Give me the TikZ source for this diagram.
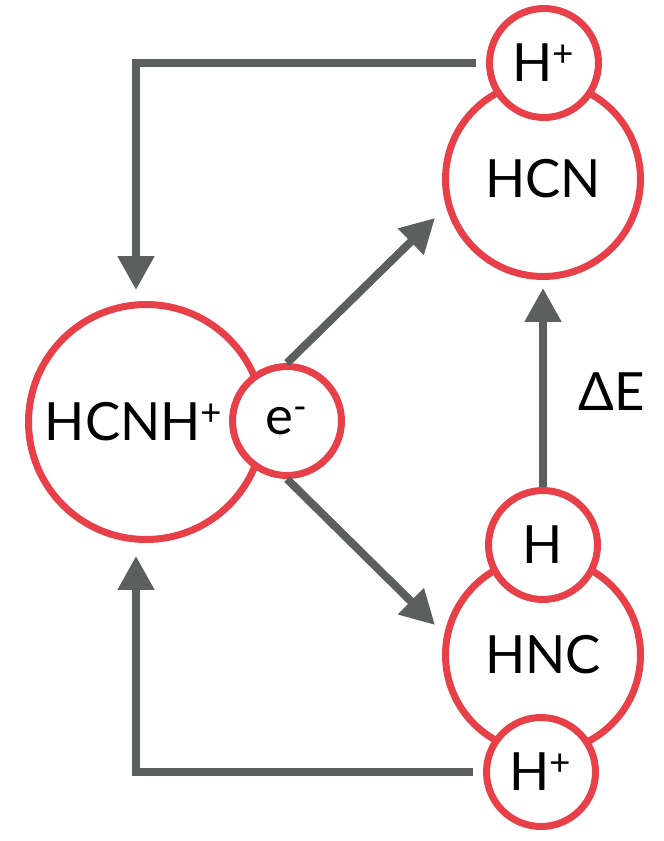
\documentclass[tikz,border=0pt]{standalone}
\usepackage{fontspec}
\setmainfont{Lato}
\usetikzlibrary{arrows.meta}

\definecolor{molred}{RGB}{232,64,72}
\definecolor{flowgray}{RGB}{91,96,94}

\tikzset{
	mol/.style={circle, draw=molred, line width=0.14cm, fill=white, inner sep=0pt, font=\fontsize{30}{33}\selectfont},
	bigmol/.style={mol, minimum size=3.9cm},
	hugemol/.style={mol, minimum size=4.7cm},
	smallmol/.style={mol, minimum size=2.18cm},
	flow/.style={draw=flowgray, line width=0.16cm, -{Triangle[length=0.68cm, width=0.7cm]}}
}

\begin{document}
\begin{tikzpicture}[x=0.02cm, y=-0.02cm]

	\useasboundingbox (0,0) rectangle (663,841);

	% molecules
	\node[bigmol] (hcn) at (543,179) {HCN};
	\node[smallmol] (hptop) at (544,63) {H\textsuperscript{+}};
	\node[hugemol, label={[xshift=-0.24cm, font=\fontsize{30}{33}\selectfont]center:HCNH\textsuperscript{+}}] (hcnh) at (146,422) {};
	\node[smallmol] (elec) at (287,421) {e\textsuperscript{-}};
	\node[bigmol] (hnc) at (543,655) {HNC};
	\node[smallmol] (hhnc) at (543,545) {H};
	\node[smallmol] (hpbot) at (541,772) {H\textsuperscript{+}};

	% corners and tips
	\coordinate (cornertop) at (136,63);
	\coordinate (cornerbot) at (136,772);
	\coordinate (tipup) at (435,218);
	\coordinate (tipdown) at (435,625);

	% proton back to HCNH+
	\draw[flow, shorten <=0.2cm, shorten >=0.22cm] (hptop.west) -- (cornertop) -- (cornertop |- hcnh.north);
	\draw[flow, shorten <=0.2cm, shorten >=0.26cm] (hpbot.west) -- (cornerbot) -- (cornerbot |- hcnh.south);
	% recombination
	\draw[flow] (elec.north) -- (tipup);
	\draw[flow] (elec.south) -- (tipdown);
	% isomerisation
	\draw[flow, shorten >=0.16cm] (hhnc.north) -- (hcn.south);
	\node[font=\fontsize{30}{33}\selectfont] (de) at (612,392) {ΔE};

\end{tikzpicture}
\end{document}
